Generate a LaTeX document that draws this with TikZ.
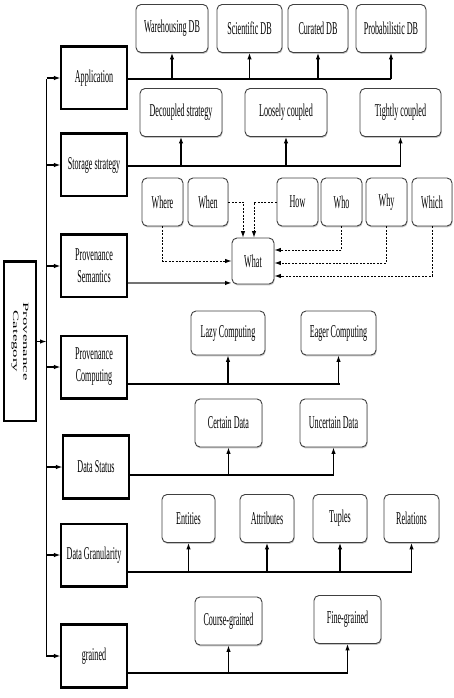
\documentclass[tikz,border=0pt]{standalone}
\usepackage{fontspec}
\setmainfont{Liberation Serif}[FakeStretch=0.45]
\newfontfamily\tallserif{Liberation Serif}[FakeStretch=2.1]
\usetikzlibrary{arrows.meta,shadows}

\begin{document}
\begin{tikzpicture}[x=1pt,y=-1pt,>={Latex[length=6.5pt,width=4.5pt]},
	font=\fontsize{18}{22}\selectfont,
	cat/.style={draw, line width=1.2pt, minimum width=66, minimum height=62, inner sep=0pt, align=center},
	leaf/.style={draw=black!75, fill=white, rounded corners=5pt, line width=0.9pt, inner sep=0pt,
		minimum height=48, align=center, drop shadow={shadow xshift=0.6pt, shadow yshift=-1.4pt, fill=black!45}},
	bus/.style={line width=1.1pt},
	sem link/.style={line width=0.9pt, dash pattern=on 2pt off 1.4pt, ->}]
	
	\useasboundingbox (0,0) rectangle (454,698);
	
	% --- Root and the seven categories
	\node[cat, rotate=-90, minimum width=159, minimum height=32,
		font=\tallserif\fontsize{8}{10}\selectfont] (root) at (20,341.5) {Provenance\\Category};
	\node[cat] (app)   at (94,78)  {Application};
	\node[cat] (store) at (94,165) {Storage strategy};
	\node[cat] (sem)   at (94,266) {Provenance\\Semantics};
	\node[cat] (comp)  at (94,367) {Provenance\\Computing};
	\node[cat] (dstat) at (96,467) {Data Status};
	\node[cat] (gran)  at (94,555) {Data Granularity};
	\node[cat] (grain) at (94,656) {grained};
	
	% heavier top / bottom edges
	\draw[line width=2.6pt] (root.north west) -- (root.south west);
	\foreach \n in {app,store,sem,dstat,grain}
		\draw[line width=2.6pt] (\n.north west) -- (\n.north east);
	\foreach \n in {comp,dstat,gran,grain}
		\draw[line width=2.6pt] (\n.south west) -- (\n.south east);
	
	% --- Vertical bus from the root
	\coordinate (bus top) at (46.5,79);
	\coordinate (bus bot) at (46.5,657);
	\draw[bus] (bus top) -- (bus bot);
	\draw[bus,->] (root) -- (root -| bus top);
	\foreach \n in {app,store,sem,comp,dstat,gran,grain}
		\draw[bus,->] (bus top |- \n) -- (\n);
	
	% --- Application
	\node[leaf, minimum width=72] (wdb) at (172,28.5)   {Warehousing DB};
	\node[leaf, minimum width=65] (sdb) at (249.5,28.5) {Scientific DB};
	\node[leaf, minimum width=60] (cdb) at (318,28.5)   {Curated DB};
	\node[leaf, minimum width=70] (pdb) at (391,28.5)   {Probabilistic DB};
	\coordinate (app end) at (391,79);
	\draw[bus] (app end -| app.east) -- (app end);
	\foreach \n in {wdb,sdb,cdb,pdb}
		\draw[bus,->] (\n |- app end) -- (\n);
	
	% --- Storage strategy
	\node[leaf, minimum width=82] (decoup) at (181,112.5)   {Decoupled strategy};
	\node[leaf, minimum width=82] (loose)  at (286,112.5)   {Loosely coupled};
	\node[leaf, minimum width=81] (tight)  at (400.5,112.5) {Tightly coupled};
	\coordinate (store end) at (401,166);
	\draw[bus] (store end -| store.east) -- (store end);
	\foreach \n in {decoup,loose,tight}
		\draw[bus,->] (\n |- store end) -- (\n);
	
	% --- Provenance semantics: the W-questions all feed into What
	\node[leaf, minimum width=41] (where) at (162.5,202) {Where};
	\node[leaf, minimum width=40] (when)  at (208,202)   {When};
	\node[leaf, minimum width=41] (how)   at (297.5,202) {How};
	\node[leaf, minimum width=41] (who)   at (341.5,202) {Who};
	\node[leaf, minimum width=41] (why)   at (386.5,202) {Why};
	\node[leaf, minimum width=40] (which) at (432,202)   {Which};
	\node[leaf, minimum width=42, minimum height=46] (what) at (253,261) {What};
	
	\draw[sem link] (where.south) |- (what.west);
	\draw[sem link] (when.east) -| ([xshift=-10pt]what.north);
	\draw[sem link] (how.west) -| ([xshift=1pt]what.north);
	\draw[sem link] (who.south) |- ([yshift=11pt]what.east);
	\draw[sem link] (why.south) |- ([yshift=-2pt]what.east);
	\draw[sem link] (which.south) |- ([yshift=-15pt]what.east);
	
	\coordinate (sem end) at ([yshift=1.5pt]what.south west);
	\draw[bus, draw=black!55, -{Latex[length=6.5pt,width=4.5pt,color=black]}] (sem end -| sem.east) -- (sem end);
	
	% --- Provenance computing
	\node[leaf, minimum width=74, minimum height=44] (lazy)  at (228,333)   {Lazy Computing};
	\node[leaf, minimum width=75, minimum height=44] (eager) at (338.5,333) {Eager Computing};
	\coordinate (comp end) at (340,384);
	\draw[bus] (comp end -| comp.east) -- (comp end);
	\foreach \n in {lazy,eager}
		\draw[bus,->] (\n |- comp end) -- (\n);
	
	% --- Data status
	\node[leaf, minimum width=67] (cert)   at (228.5,423) {Certain Data};
	\node[leaf, minimum width=67] (uncert) at (333.5,423) {Uncertain Data};
	\coordinate (dstat end) at (334,475);
	\draw[bus] (dstat end -| dstat.east) -- (dstat end);
	\foreach \n in {cert,uncert}
		\draw[bus,->] (\n |- dstat end) -- (\n);
	
	% --- Data granularity
	\node[leaf, minimum width=53] (ent)  at (188.5,518.5) {Entities};
	\node[leaf, minimum width=54] (attr) at (267,518.5)   {Attributes};
	\node[leaf, minimum width=54] (tup)  at (340,518.5)   {Tuples};
	\node[leaf, minimum width=55] (rel)  at (411.5,518.5) {Relations};
	\coordinate (gran end) at (412,572);
	\draw[bus] (gran end -| gran.east) -- (gran end);
	\foreach \n in {ent,attr,tup,rel}
		\draw[bus,->] (\n |- gran end) -- (\n);
	
	% --- Grained
	\node[leaf, minimum width=67] (coarse) at (228.5,621)   {Course-grained};
	\node[leaf, minimum width=67] (fine)   at (347.5,619.5) {Fine-grained};
	\coordinate (grain end) at (348,673);
	\draw[bus] (grain end -| grain.east) -- (grain end);
	\foreach \n in {coarse,fine}
		\draw[bus,->] (\n |- grain end) -- (\n);
	
\end{tikzpicture}
\end{document}
